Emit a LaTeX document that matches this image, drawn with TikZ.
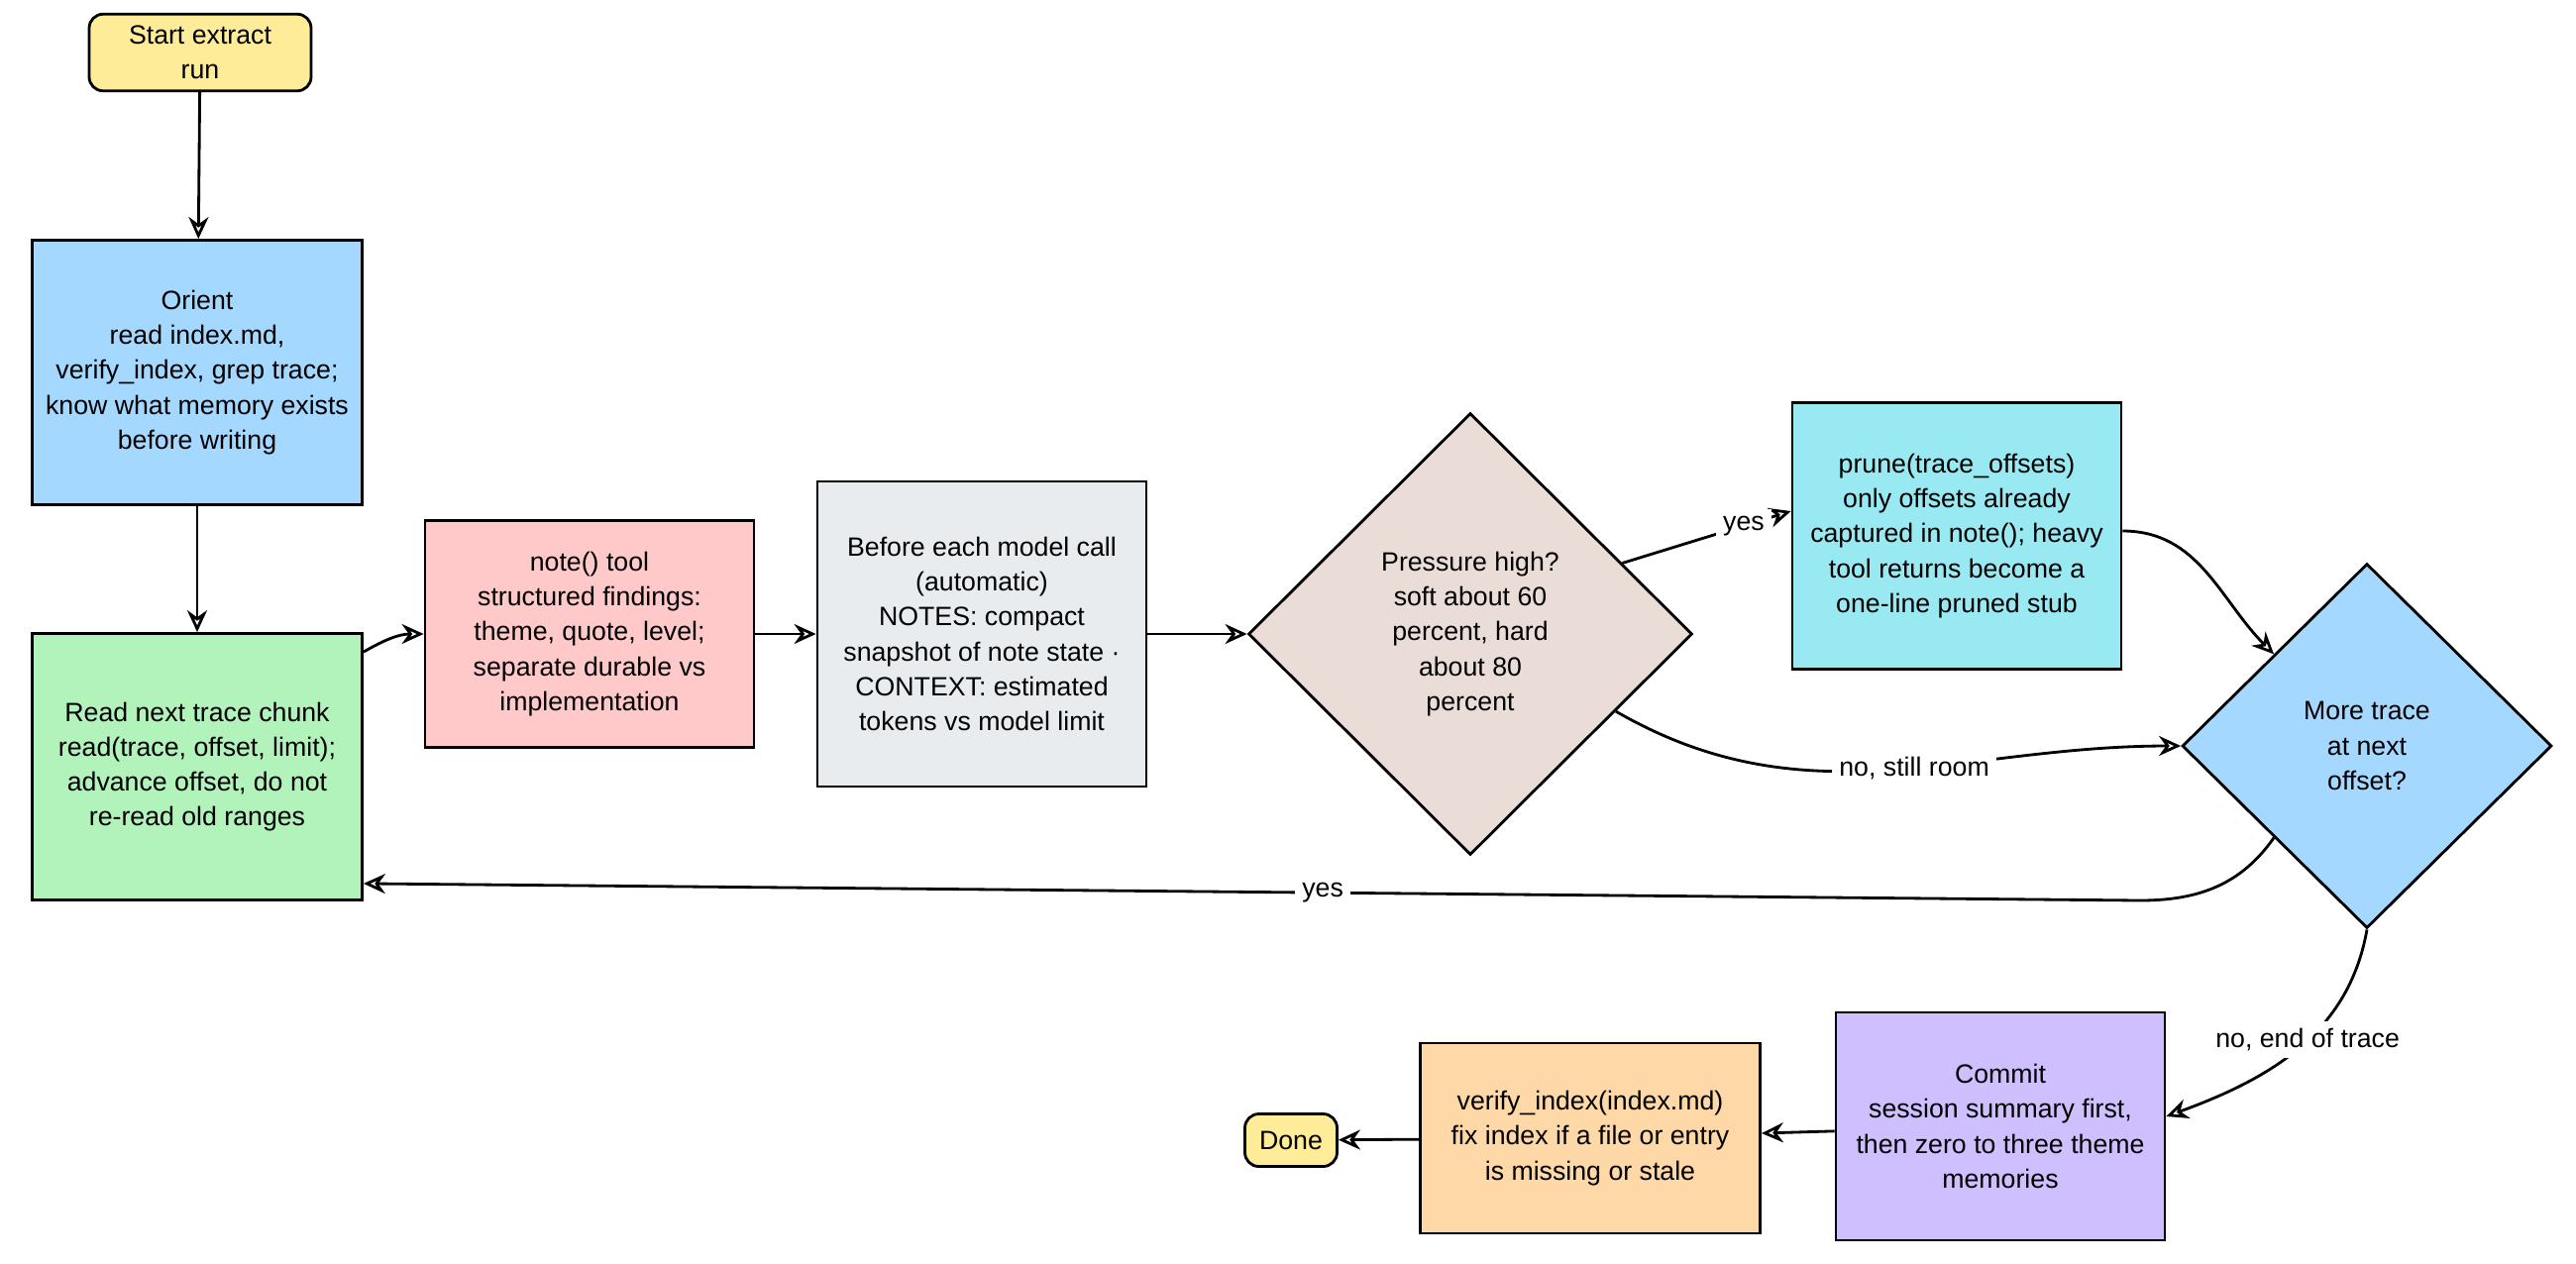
\documentclass[tikz,border=0pt]{standalone}
\usepackage{fontspec}
\setmainfont{Liberation Sans}
\usetikzlibrary{shapes.geometric,arrows.meta,positioning}
\definecolor{startcolor}{HTML}{FFEC99}
\definecolor{orientcolor}{HTML}{A5D8FF}
\definecolor{readcolor}{HTML}{B2F2BB}
\definecolor{notecolor}{HTML}{FFC9C9}
\definecolor{beforecolor}{HTML}{E9ECEF}
\definecolor{pressurecolor}{HTML}{EADDD7}
\definecolor{prunecolor}{HTML}{99E9F2}
\definecolor{commitcolor}{HTML}{D0BFFF}
\definecolor{verifycolor}{HTML}{FFD8A8}
\begin{document}
\begin{tikzpicture}[
    font=\fontsize{7.6}{10}\selectfont,
    box/.style={rectangle, draw, thick, align=center, inner sep=2pt},
    term/.style={rectangle, draw, thick, rounded corners=4pt, fill=startcolor, align=center},
    decision/.style={diamond, draw, thick, align=center, inner sep=0pt},
    flow/.style={-{Stealth[open,length=2.2mm,width=2mm]}, thick},
    lbl/.style={fill=white, inner sep=2pt},
]
    \useasboundingbox (0,0) rectangle (26,-12.75);

    % Main column
    \node[term, minimum width=2.24cm, minimum height=0.75cm] (start) at (2.02,-0.53) {Start extract\\run};
    \node[box, fill=orientcolor, minimum width=3.33cm, minimum height=2.67cm] (orient) at (1.99,-3.76) {Orient\\read index.md,\\verify\_index, grep trace;\\know what memory exists\\before writing};
    \node[box, fill=readcolor, minimum width=3.33cm, minimum height=2.69cm] (read) at (1.99,-7.74) {Read next trace chunk\\read(trace, offset, limit);\\advance offset, do not\\re-read old ranges};

    % Row of steps
    \node[box, fill=notecolor, minimum width=3.32cm, minimum height=2.29cm] (note) at (5.95,-6.40) {note() tool\\structured findings:\\theme, quote, level;\\separate durable vs\\implementation};
    \node[box, fill=beforecolor, minimum width=3.32cm, minimum height=3.08cm] (before) at (9.91,-6.40) {Before each model call\\(automatic)\\NOTES: compact\\snapshot of note state ·\\CONTEXT: estimated\\tokens vs model limit};
    \node[decision, fill=pressurecolor, minimum width=4.48cm, minimum height=4.46cm] (pressure) at (14.84,-6.40) {Pressure high?\\soft about 60\\percent, hard\\about 80\\percent};
    \node[box, fill=prunecolor, minimum width=3.32cm, minimum height=2.69cm] (prune) at (19.75,-5.41) {prune(trace\_offsets)\\only offsets already\\captured in note(); heavy\\tool returns become a\\one-line pruned stub};
    \node[decision, fill=orientcolor, minimum width=3.73cm, minimum height=3.68cm] (more) at (23.89,-7.53) {More trace\\at next\\offset?};

    % Bottom row
    \node[box, fill=commitcolor, minimum width=3.32cm, minimum height=2.3cm] (commit) at (20.19,-11.37) {Commit\\session summary first,\\then zero to three theme\\memories};
    \node[box, fill=verifycolor, minimum width=3.43cm, minimum height=1.92cm] (verify) at (16.05,-11.49) {verify\_index(index.md)\\fix index if a file or entry\\is missing or stale};
    \node[term, minimum width=0.93cm, minimum height=0.53cm] (done) at (13.03,-11.51) {Done};

    \draw[flow] (start) -- (orient);
    \draw[flow] (orient) -- (read);
    \draw[flow] ([yshift=-0.2cm]read.north east) to[out=30,in=180] (note.west);
    \draw[flow] (note) -- (before);
    \draw[flow] (before) -- (pressure);
    \draw[flow] (pressure.25) -- node[lbl, pos=0.72] {yes} ([yshift=0.25cm]prune.west);
    \draw[flow] ([yshift=0.05cm]prune.east) to[out=0,in=135] (more.north west);
    \draw[flow] (pressure.-28) to[out=-30,in=180] node[lbl, pos=0.55] {no, still room} (more.west);
    \coordinate (back) at (21.6,-9.09);
    \draw[flow] (more.south west) to[out=-125,in=0] (back) -- node[lbl, pos=0.46] {yes} ([yshift=0.18cm]read.south east);
    \draw[flow] (more.south) to[out=-100,in=20] node[lbl, pos=0.45] {no, end of trace} ([yshift=0.1cm]commit.east);
    \draw[flow] (commit) -- (verify);
    \draw[flow] (verify) -- (done);
\end{tikzpicture}
\end{document}
